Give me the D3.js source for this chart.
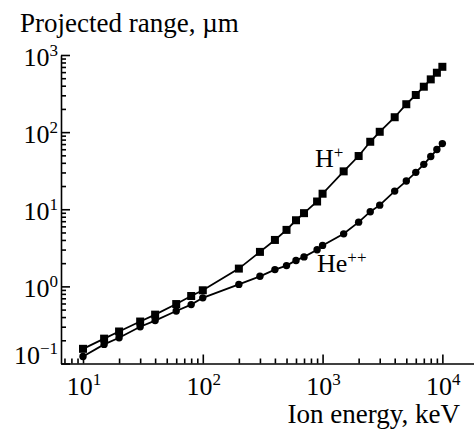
<!DOCTYPE html>
<html>
<head>
<meta charset="utf-8">
<script src="https://cdn.jsdelivr.net/npm/d3@7"></script>
<style>
  html, body { margin: 0; padding: 0; background: #fff; }
  svg text { font-family: "Liberation Serif", "Times New Roman", serif; fill: #000; }
</style>
</head>
<body>
<svg id="chart" width="474" height="431"></svg>
<script>
// ion energy, keV (same grid for both ions)
const energyKeV = [10, 15, 20, 30, 40, 60, 80, 100, 200, 300, 400, 500, 600, 700, 900,
    1000, 1500, 2000, 2500, 3000, 4000, 5000, 6000, 7000, 8000, 9000, 10000];
// projected range, um
const rangeH = [0.155, 0.21, 0.26, 0.35, 0.43, 0.59, 0.75, 0.89, 1.7, 2.8, 4.0, 5.4, 7.2, 8.9, 12.6,
    15.9, 31, 49, 75, 101, 156, 230, 303, 388, 483, 589, 703];
const rangeHe = [0.123, 0.177, 0.216, 0.30, 0.36, 0.48, 0.58, 0.71, 1.06, 1.35, 1.65, 1.86, 2.17, 2.41, 2.99,
    3.4, 4.8, 6.8, 9.3, 11.3, 17.2, 23.2, 30.1, 38.2, 48.2, 59.4, 71.0];

const xMajor = [1, 2, 3, 4];      // exponents of 10
const yMajor = [3, 2, 1, 0, -1];
const xMinor = [7, 8, 9, 20, 30, 40, 50, 60, 70, 80, 90, 200, 300, 400, 500, 600, 700, 800, 900,
    2000, 3000, 4000, 5000, 6000, 7000, 8000, 9000];
const yMinor = [0.2, 0.3, 0.4, 0.5, 0.6, 0.7, 0.8, 0.9, 2, 3, 4, 5, 6, 7, 8, 9,
    20, 30, 40, 50, 60, 70, 80, 90, 200, 300, 400, 500, 600, 700, 800, 900];

const svg = d3.select("#chart");
const fontSize = 26, titleSize = 27, supSize = 17;

const x = d3.scaleLog().domain([6.55, 18370]).range([61, 474]);
const y = d3.scaleLog().domain([0.1, 1000]).range([363.5, 55]);

// axes: ticks point inward
const xAxisG = svg.append("g").attr("transform", "translate(0," + y.range()[0] + ")");
xAxisG.call(d3.axisBottom(x).tickValues(xMinor).tickSize(-5).tickSizeOuter(0).tickFormat(""));
xAxisG.append("g").call(d3.axisBottom(x).tickValues(xMajor.map(e => Math.pow(10, e)))
    .tickSize(-9).tickSizeOuter(0).tickFormat(""))
    .select(".domain").remove();

const yAxisG = svg.append("g").attr("transform", "translate(" + x.range()[0] + ",0)");
yAxisG.call(d3.axisLeft(y).tickValues(yMinor).tickSize(-5).tickSizeOuter(0).tickFormat(""));
yAxisG.append("g").call(d3.axisLeft(y).tickValues(yMajor.map(e => Math.pow(10, e)))
    .tickSize(-9).tickSizeOuter(0).tickFormat(""))
    .select(".domain").remove();

svg.selectAll(".domain, .tick line").attr("stroke", "#000").attr("stroke-width", 1.6);

// tick labels 10^n
const expText = (sel, e) => {
    sel.append("tspan").text("10");
    sel.append("tspan").attr("dy", -10).attr("font-size", supSize)
        .text(e < 0 ? "\u2212" + (-e) : e);
};

svg.append("g").selectAll("text").data(xMajor).enter().append("text")
    .attr("x", d => x(Math.pow(10, d)) + 1)
    .attr("y", 395)
    .attr("text-anchor", "middle")
    .attr("font-size", fontSize)
    .each(function(d) { expText(d3.select(this), d); });

svg.append("g").selectAll("text").data(yMajor).enter().append("text")
    .attr("x", 58)
    .attr("y", d => y(Math.pow(10, d)) + (d === -1 ? 0 : 11))
    .attr("text-anchor", "end")
    .attr("font-size", fontSize)
    .each(function(d) { expText(d3.select(this), d); });

// axis titles
svg.append("text").attr("x", 20).attr("y", 32).attr("font-size", titleSize)
    .text("Projected range, \u00b5m");
svg.append("text").attr("x", 460).attr("y", 423).attr("text-anchor", "end")
    .attr("font-size", titleSize).text("Ion energy, keV");

// curves
const line = d3.line().x(d => x(d[0])).y(d => y(d[1]));
const ptsH = energyKeV.map((e, i) => [e, rangeH[i]]);
const ptsHe = energyKeV.map((e, i) => [e, rangeHe[i]]);

svg.append("path").datum(ptsH).attr("d", line)
    .attr("fill", "none").attr("stroke", "#000").attr("stroke-width", 1.8);
svg.append("path").datum(ptsHe).attr("d", line)
    .attr("fill", "none").attr("stroke", "#000").attr("stroke-width", 1.8);

const sq = 8;
svg.append("g").selectAll("rect").data(ptsH).enter().append("rect")
    .attr("x", d => x(d[0]) - sq / 2)
    .attr("y", d => y(d[1]) - sq / 2)
    .attr("width", sq).attr("height", sq)
    .attr("fill", "#000");

svg.append("g").selectAll("circle").data(ptsHe).enter().append("circle")
    .attr("cx", d => x(d[0]))
    .attr("cy", d => y(d[1]))
    .attr("r", 3.7)
    .attr("fill", "#000");

// series labels
const hLab = svg.append("text").attr("x", 315).attr("y", 167).attr("font-size", fontSize);
hLab.append("tspan").text("H");
hLab.append("tspan").attr("dy", -9).attr("font-size", supSize).text("+");

const heLab = svg.append("text").attr("x", 317).attr("y", 272).attr("font-size", fontSize);
heLab.append("tspan").text("He");
heLab.append("tspan").attr("dy", -9).attr("font-size", supSize).text("++");
</script>
</body>
</html>
